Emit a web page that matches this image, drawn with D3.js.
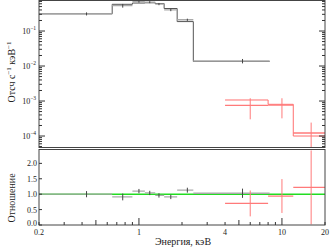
<!DOCTYPE html>
<html>
<head>
<meta charset="utf-8">
<script src="https://cdn.jsdelivr.net/npm/d3@7"></script>
<style>
  body { margin: 0; background: #fff; }
  text { font-family: "Liberation Serif", "DejaVu Serif", serif; fill: #222; }
</style>
</head>
<body>
<div id="main"></div>
<script>
// black spectrum (bins, rate, model, ratio)
const blackLo = [0.2, 0.65, 0.9, 1.1, 1.3, 1.5, 1.85, 2.4];
const blackHi = [0.65, 0.9, 1.1, 1.3, 1.5, 1.85, 2.4, 8.2];
const blackMid = [0.43, 0.77, 1.0, 1.19, 1.38, 1.67, 2.18, 5.3];
const blackRate = [0.31, 0.53, 0.69, 0.67, 0.59, 0.40, 0.21, 0.0139];
const blackRateErr = [0.031, 0.064, 0.044, 0.045, 0.043, 0.031, 0.015, 0.002];
const blackModel = [0.31, 0.58, 0.63, 0.64, 0.61, 0.44, 0.186, 0.0135];
const blackRatio = [1.0, 0.91, 1.10, 1.04, 0.96, 0.91, 1.13, 1.03];
const blackRatioErr = [0.1, 0.11, 0.07, 0.07, 0.07, 0.07, 0.08, 0.15];

// red spectrum
const redLo = [4, 8, 12];
const redHi = [8, 12, 20];
const redMid = [6, 10, 16];
const redRate = [7.5e-4, 7.6e-4, 1.22e-4];
const redRateErr = [4.5e-4, 4.4e-4, 1.2e-4];
const redModel = [1.07e-3, 8.05e-4, 1.0e-4];
const redRatio = [0.70, 0.94, 1.22];
const redRatioErr = [0.42, 0.55, 1.2];

// axis ticks
const xLabels = [0.2, 1, 4, 10, 20];
const topDecades = [-1, -2, -3, -4];
const ratioTicks = [0, 0.5, 1, 1.5, 2];

// dimensions
const svg_width = 332, svg_height = 249;
const left = 39, right = 325;
const top1 = 0, bot1 = 147.5, top2 = 149.5, bot2 = 225;

var svg = d3.select("#main").append("svg")
    .attr("width", svg_width)
    .attr("height", svg_height);

var x = d3.scaleLog().domain([0.2, 20]).range([left, right]);
var yTop = d3.scaleLog().domain([4.7e-5, 0.77]).range([bot1, top1]).clamp(true);
var yRat = d3.scaleLinear().domain([0, 2.45]).range([bot2, top2]);

// clip paths
var defs = svg.append("defs");
defs.append("clipPath").attr("id", "clipTop").append("rect")
    .attr("x", left).attr("y", top1).attr("width", right - left).attr("height", bot1 - top1);
defs.append("clipPath").attr("id", "clipRat").append("rect")
    .attr("x", left).attr("y", top2).attr("width", right - left).attr("height", bot2 - top2);

var gTop = svg.append("g").attr("clip-path", "url(#clipTop)");
var gRat = svg.append("g").attr("clip-path", "url(#clipRat)");

function stepLine(lo, hi, vals, y) {
    var p = d3.path();
    lo.forEach(function(d, i) {
        if (i == 0) p.moveTo(x(d), y(vals[i]));
        else p.lineTo(x(d), y(vals[i]));
        p.lineTo(x(hi[i]), y(vals[i]));
    });
    return p.toString();
}

function crosses(g, lo, hi, mid, val, err, y, hcol, vcol) {
    lo.forEach(function(d, i) {
        g.append("line")
            .attr("x1", x(d)).attr("x2", x(hi[i]))
            .attr("y1", y(val[i])).attr("y2", y(val[i]))
            .attr("stroke", hcol).attr("stroke-width", 1.3);
        var lowV = val[i] - err[i];
        g.append("line")
            .attr("x1", x(mid[i])).attr("x2", x(mid[i]))
            .attr("y1", y(val[i] + err[i]))
            .attr("y2", lowV > 0 ? y(lowV) : y(y.domain()[0]) + 5)
            .attr("stroke", vcol).attr("stroke-width", 1);
    });
}

// top panel: models as steps, data as crosses
gTop.append("path").attr("d", stepLine(blackLo, blackHi, blackModel, yTop))
    .attr("fill", "none").attr("stroke", "#555").attr("stroke-width", 1);
crosses(gTop, blackLo, blackHi, blackMid, blackRate, blackRateErr, yTop, "#aaa", "#444");
gTop.append("path").attr("d", stepLine(redLo, redHi, redModel, yTop))
    .attr("fill", "none").attr("stroke", "#ff6f6f").attr("stroke-width", 1);
crosses(gTop, redLo, redHi, redMid, redRate, redRateErr, yTop, "#ff7a7a", "#ff7a7a");

// ratio panel
gRat.append("line")
    .attr("x1", left).attr("x2", right)
    .attr("y1", yRat(1)).attr("y2", yRat(1))
    .attr("stroke", "#22dd22").attr("stroke-width", 1.5);
crosses(gRat, blackLo, blackHi, blackMid, blackRatio, blackRatioErr, yRat, "#aaa", "#444");
crosses(gRat, redLo, redHi, redMid, redRatio, redRatioErr, yRat, "#ff7a7a", "#ff7a7a");

// frames
svg.append("rect").attr("x", left).attr("y", top1 + 0.5)
    .attr("width", right - left).attr("height", bot1 - top1 - 0.5)
    .attr("fill", "none").attr("stroke", "#444").attr("stroke-width", 1);
svg.append("rect").attr("x", left).attr("y", top2)
    .attr("width", right - left).attr("height", bot2 - top2)
    .attr("fill", "none").attr("stroke", "#444").attr("stroke-width", 1);

// top panel y ticks (both sides, inward)
var tickG = svg.append("g").attr("stroke", "#333").attr("stroke-width", 1);
for (var e = -5; e <= 0; e++) {
    for (var m = 1; m <= 9; m++) {
        var v = m * Math.pow(10, e);
        if (v < yTop.domain()[0] || v > yTop.domain()[1]) continue;
        var len = m == 1 ? 6 : 3;
        var yy = yTop(v);
        tickG.append("line").attr("x1", left).attr("x2", left + len).attr("y1", yy).attr("y2", yy);
        tickG.append("line").attr("x1", right - len).attr("x2", right).attr("y1", yy).attr("y2", yy);
    }
}
topDecades.forEach(function(d) {
    var t = svg.append("text")
        .attr("x", left - 3).attr("y", yTop(Math.pow(10, d)) + 3)
        .attr("text-anchor", "end").attr("font-size", 8);
    t.append("tspan").text("10");
    t.append("tspan").attr("font-size", 5.5).attr("dy", -4).text("−" + (-d));
});

// ratio y ticks
ratioTicks.forEach(function(d) {
    tickG.append("line").attr("x1", left).attr("x2", left + 3).attr("y1", yRat(d)).attr("y2", yRat(d));
    svg.append("text")
        .attr("x", left - 2).attr("y", yRat(d) + (d == 0 ? 1 : 3))
        .attr("text-anchor", "end").attr("font-size", 8)
        .text(d3.format(".1f")(d));
});

// x ticks (bottom, inward)
for (var e = -1; e <= 1; e++) {
    for (var m = 1; m <= 9; m++) {
        var v = m * Math.pow(10, e);
        if (v < 0.2 || v > 20) continue;
        var len = m == 1 ? 7 : (m == 5 ? 5 : 3);
        tickG.append("line").attr("x1", x(v)).attr("x2", x(v))
            .attr("y1", bot2).attr("y2", bot2 - len);
    }
}
xLabels.forEach(function(d) {
    svg.append("text")
        .attr("x", x(d)).attr("y", bot2 + 9.5)
        .attr("text-anchor", "middle").attr("font-size", 8)
        .text(d);
});

// axis titles
svg.append("text")
    .attr("x", (left + right) / 2 + 1).attr("y", 245)
    .attr("text-anchor", "middle").attr("font-size", 10)
    .text("Энергия, кэВ");

var yl = svg.append("text")
    .attr("transform", "translate(15,72) rotate(-90)")
    .attr("text-anchor", "middle").attr("font-size", 10);
yl.append("tspan").text("Отсч с");
yl.append("tspan").attr("font-size", 7).attr("dy", -4).text("−1");
yl.append("tspan").attr("dy", 4).text(" кэВ");
yl.append("tspan").attr("font-size", 7).attr("dy", -4).text("−1");

svg.append("text")
    .attr("transform", "translate(15,198) rotate(-90)")
    .attr("text-anchor", "middle").attr("font-size", 10)
    .text("Отношение");
</script>
</body>
</html>
